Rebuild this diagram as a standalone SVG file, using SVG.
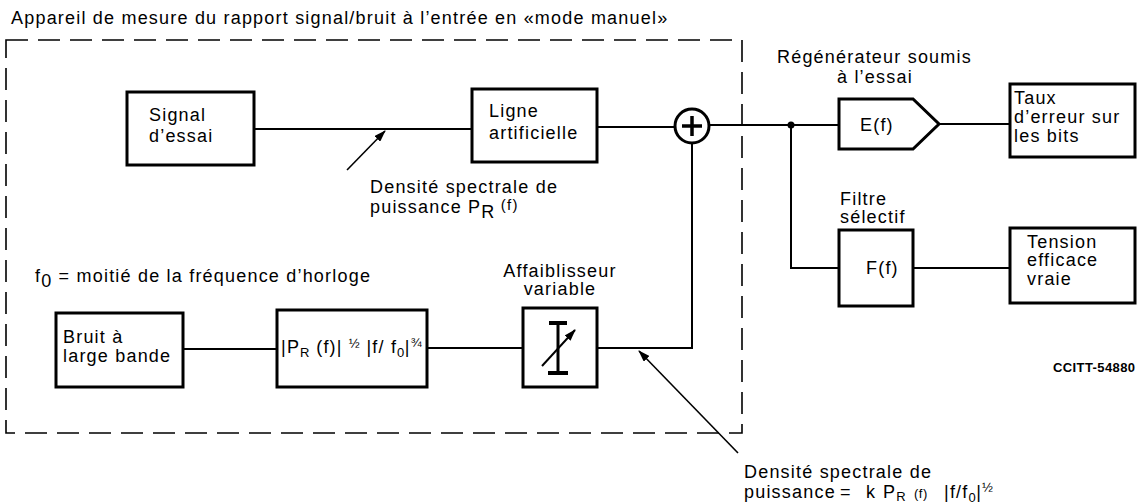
<svg xmlns="http://www.w3.org/2000/svg" width="1141" height="504" viewBox="0 0 1141 504">
<defs>
<marker id="ah" markerWidth="12" markerHeight="8" refX="11" refY="4" orient="auto" markerUnits="userSpaceOnUse"><path d="M0,0 L12,4 L0,8 Z" fill="#000"/></marker>
<style>
text{font-family:"Liberation Sans",Arial,sans-serif;font-size:18px;letter-spacing:1.2px;fill:#000}
.box{fill:#fff;stroke:#000;stroke-width:3}
.ln{fill:none;stroke:#000;stroke-width:2}
.dash{fill:none;stroke:#000;stroke-width:1.6;stroke-dasharray:22 10}
.ann{fill:none;stroke:#000;stroke-width:1.6}
.sm{font-size:13px;letter-spacing:0.5px}
.ref{font-size:13px;font-weight:bold;letter-spacing:0.4px}
</style>
</defs>
<rect width="1141" height="504" fill="#fff"/>
<text x="11" y="24">Appareil de mesure du rapport signal/bruit à l’entrée en «mode manuel»</text>
<rect class="dash" x="6" y="40" width="736" height="393"/>
<g id="connectors">
<line class="ln" x1="254" y1="129" x2="472" y2="129"/>
<line class="ln" x1="597" y1="127" x2="675" y2="127"/>
<line class="ln" x1="709" y1="125" x2="839" y2="125"/>
<circle cx="791" cy="125" r="3.5" fill="#000"/>
<line class="ln" x1="939" y1="124" x2="1010" y2="124"/>
<polyline class="ln" points="791,125 791,268 839,268"/>
<line class="ln" x1="913" y1="268" x2="1010" y2="268"/>
<line class="ln" x1="183" y1="349" x2="277" y2="349"/>
<line class="ln" x1="427" y1="348" x2="523" y2="348"/>
<polyline class="ln" points="597,348 692,348 692,143"/>
<line class="ann" x1="347" y1="170" x2="385" y2="131" marker-end="url(#ah)"/>
<line class="ann" x1="738" y1="453" x2="639" y2="351" marker-end="url(#ah)"/>
</g>
<g id="signal">
<rect class="box" x="127" y="92" width="127" height="73"/>
<text x="149" y="121">Signal</text>
<text x="149" y="142">d’essai</text>
</g>
<g id="ligne">
<rect class="box" x="472" y="89" width="125" height="73"/>
<text x="489" y="117">Ligne</text>
<text x="489" y="139">artificielle</text>
</g>
<g id="sommateur">
<circle cx="692" cy="126" r="17" fill="#fff" stroke="#000" stroke-width="3"/>
<line x1="682" y1="126" x2="702" y2="126" stroke="#000" stroke-width="3.5"/>
<line x1="692" y1="116" x2="692" y2="136" stroke="#000" stroke-width="3.5"/>
</g>
<g id="regenerateur">
<text x="777" y="63">Régénérateur soumis</text>
<text x="837" y="83">à l’essai</text>
<polygon class="box" points="839,99 913,99 939,124 913,149 839,149"/>
<text x="860" y="131">E(f)</text>
</g>
<g id="taux">
<rect class="box" x="1010" y="84" width="125" height="73"/>
<text x="1014" y="104">Taux</text>
<text x="1014" y="123">d’erreur sur</text>
<text x="1014" y="142">les bits</text>
</g>
<g id="filtre">
<text x="840" y="205">Filtre</text>
<text x="840" y="223">sélectif</text>
<rect class="box" x="839" y="230" width="74" height="76"/>
<text x="866" y="274">F(f)</text>
</g>
<g id="tension">
<rect class="box" x="1010" y="228" width="125" height="75"/>
<text x="1027" y="248">Tension</text>
<text x="1027" y="266">efficace</text>
<text x="1027" y="285">vraie</text>
</g>
<g id="note-f0">
<text x="35" y="282">f<tspan dy="5">0</tspan><tspan dy="-5"> = moitié de la fréquence d’horloge</tspan></text>
</g>
<g id="bruit">
<rect class="box" x="56" y="313" width="127" height="74"/>
<text x="63" y="343">Bruit à</text>
<text x="63" y="362">large bande</text>
</g>
<g id="forme">
<rect class="box" x="277" y="310" width="150" height="77"/>
<text x="281" y="353" letter-spacing="0.5">|P<tspan class="sm" dy="4">R</tspan><tspan dy="-4"> (f)| </tspan><tspan class="sm" dy="-5">½</tspan><tspan dy="5"> |f/ f</tspan><tspan class="sm" dy="4">0</tspan><tspan dy="-4">|</tspan><tspan class="sm" dy="-6">¾</tspan></text>
</g>
<g id="affaiblisseur">
<text x="560" y="277" text-anchor="middle">Affaiblisseur</text>
<text x="560" y="295" text-anchor="middle">variable</text>
<rect class="box" x="523" y="308" width="74" height="79"/>
<line x1="558" y1="323" x2="558" y2="373" stroke="#000" stroke-width="3"/>
<line x1="549" y1="323" x2="567" y2="323" stroke="#000" stroke-width="4"/>
<line x1="548" y1="373" x2="568" y2="373" stroke="#000" stroke-width="4"/>
<line x1="542" y1="366" x2="575" y2="330" stroke="#000" stroke-width="2" marker-end="url(#ah)"/>
</g>
<g id="densite-1">
<text x="370" y="193">Densité spectrale de</text>
<text x="370" y="213">puissance P<tspan dy="5">R</tspan><tspan font-size="15" dy="-8"> (f)</tspan></text>
</g>
<g id="densite-2">
<text x="744" y="478">Densité spectrale de</text>
<text x="744" y="498">puissance<tspan x="840">=</tspan><tspan x="866">k</tspan><tspan x="883">P</tspan><tspan class="sm" dy="3">R</tspan><tspan class="sm" x="914" dy="-3">(f)</tspan><tspan x="944">|f/f</tspan><tspan class="sm" dy="4">0</tspan><tspan dy="-4">|</tspan><tspan class="sm" dy="-6">½</tspan></text>
</g>
<text class="ref" x="1053" y="372">CCITT-54880</text>
</svg>
